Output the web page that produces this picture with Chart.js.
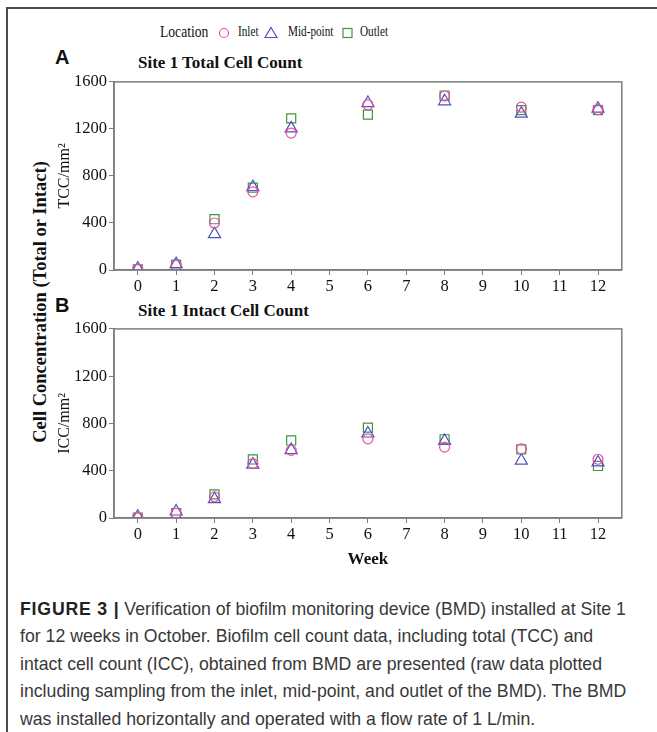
<!DOCTYPE html>
<html>
<head>
<meta charset="utf-8">
<script src="https://cdn.jsdelivr.net/npm/chart.js@4.4.1/dist/chart.umd.min.js"></script>
<style>
  body { margin: 0; background: #fff; width: 657px; height: 732px; position: relative; overflow: hidden; }
  .frame { position: absolute; left: 6px; top: 7px; width: 660px; height: 740px; border-left: 2px solid #4a4a4a; border-top: 2px solid #4a4a4a; }
  .serif { font-family: "Liberation Serif", "Times New Roman", serif; color: #111; }
  .abs { position: absolute; white-space: nowrap; }
  .narrow { transform: scaleX(0.8); transform-origin: left center; }
  .panel { position: absolute; font-family: "Liberation Sans", Arial, sans-serif; font-weight: bold; font-size: 20px; color: #111; }
  .ptitle { font-weight: bold; font-size: 17px; }
  .outer-title { position: absolute; left: 40px; top: 302px; transform: translate(-50%, -50%) rotate(-90deg); font-weight: bold; font-size: 18.5px; white-space: nowrap; }
  .caption { position: absolute; left: 20px; top: 596px; font-family: "Liberation Sans", Arial, sans-serif; font-size: 17.7px; line-height: 27.4px; color: #383838; white-space: nowrap; }
  .caption b { color: #222; letter-spacing: 0.8px; }
  canvas { position: absolute; }
</style>
</head>
<body>
<div class="frame"></div>

<div class="abs serif narrow" style="left:160px; top:22px; font-size:17px;">Location</div>
<svg class="abs" style="left:216px; top:26px;" width="180" height="16">
  <circle cx="8" cy="7" r="4.5" fill="none" stroke="#ec4f9b" stroke-width="1.2"/>
  <polygon points="55,1.5 61,11.5 49,11.5" fill="none" stroke="#5050c4" stroke-width="1.2"/>
  <rect x="127" y="2.5" width="9" height="9" fill="none" stroke="#3f963f" stroke-width="1.2"/>
</svg>
<div class="abs serif narrow" style="left:238px; top:24px; font-size:14px;">Inlet</div>
<div class="abs serif narrow" style="left:288px; top:24px; font-size:14px;">Mid-point</div>
<div class="abs serif narrow" style="left:360px; top:24px; font-size:14px;">Outlet</div>

<div class="panel" style="left:55px; top:46px;">A</div>
<div class="abs serif ptitle" style="left:138px; top:53px;">Site 1 Total Cell Count</div>
<div class="panel" style="left:55px; top:294px;">B</div>
<div class="abs serif ptitle" style="left:138px; top:301px;">Site 1 Intact Cell Count</div>

<div class="outer-title serif">Cell Concentration (Total or Intact)</div>

<canvas id="chartA" style="left:55px; top:70px;" width="575" height="230"></canvas>
<canvas id="chartB" style="left:55px; top:317px;" width="575" height="253"></canvas>

<div class="caption"><b>FIGURE 3 |</b> Verification of biofilm monitoring device (BMD) installed at Site 1<br>for 12 weeks in October. Biofilm cell count data, including total (TCC) and<br>intact cell count (ICC), obtained from BMD are presented (raw data plotted<br>including sampling from the inlet, mid-point, and outlet of the BMD). The BMD<br>was installed horizontally and operated with a flow rate of 1 L/min.</div>

<script>
// sampling weeks
const weeks = [0, 1, 2, 3, 4, 6, 8, 10, 12];

// total cell count (TCC/mm2)
const tccInlet  = [8, 40, 400, 665, 1165, 1405, 1480, 1385, 1365];
const tccMid    = [12, 50, 305, 705, 1205, 1420, 1435, 1330, 1372];
const tccOutlet = [6, 45, 432, 700, 1290, 1322, 1484, 1360, 1360];

// intact cell count (ICC/mm2)
const iccInlet  = [5, 40, 180, 460, 572, 670, 600, 585, 497];
const iccMid    = [10, 55, 160, 452, 575, 715, 652, 485, 470];
const iccOutlet = [4, 42, 200, 495, 656, 765, 666, 580, 440];

const yTicks = [0, 400, 800, 1200, 1600];

const colors = { inlet: '#ec4f9b', mid: '#5050c4', outlet: '#3f963f' };
const axisGrey = '#7d7d7d';
const serif = '"Liberation Serif", "Times New Roman", serif';

// draws the full box round the plot area
const boxPlugin = {
    id: 'box',
    afterDraw(chart) {
        const a = chart.chartArea;
        const ctx = chart.ctx;
        ctx.save();
        ctx.strokeStyle = axisGrey;
        ctx.lineWidth = 1.5;
        ctx.strokeRect(a.left, a.top, a.right - a.left, a.bottom - a.top);
        ctx.restore();
    }
};

function toPoints(values) {
    return weeks.map((w, i) => ({ x: w, y: values[i] }));
}

function makeChart(id, yTitle, inlet, mid, outlet, showWeek) {
    const ctx = document.getElementById(id);
    return new Chart(ctx, {
        type: 'scatter',
        data: {
            datasets: [
                { label: 'Inlet', data: toPoints(inlet), pointStyle: 'circle', pointRadius: 5,
                  borderColor: colors.inlet, backgroundColor: 'transparent', borderWidth: 1.2 },
                { label: 'Mid-point', data: toPoints(mid), pointStyle: 'triangle', pointRadius: 7,
                  borderColor: colors.mid, backgroundColor: 'transparent', borderWidth: 1.2 },
                { label: 'Outlet', data: toPoints(outlet), pointStyle: 'rect', pointRadius: 6.4,
                  borderColor: colors.outlet, backgroundColor: 'transparent', borderWidth: 1.2 }
            ]
        },
        options: {
            responsive: false,
            animation: false,
            layout: { padding: { top: 10, right: 8, left: 0, bottom: 0 } },
            plugins: { legend: { display: false }, tooltip: { enabled: false } },
            scales: {
                x: {
                    type: 'linear',
                    min: -0.62,
                    max: 12.62,
                    afterFit: s => { s.height = showWeek ? 52 : 30; },
                    grid: { drawOnChartArea: false, drawTicks: true, tickLength: 5, color: axisGrey },
                    border: { color: axisGrey, width: 1.5 },
                    ticks: { stepSize: 1, includeBounds: false, padding: 2, color: '#111',
                             font: { family: serif, size: 16.5 }, callback: v => String(v) },
                    title: { display: showWeek, text: 'Week', color: '#111', padding: 0,
                             font: { family: serif, size: 17, weight: 'bold' } }
                },
                y: {
                    min: 0,
                    max: 1600,
                    afterFit: s => { s.width = 59; },
                    afterBuildTicks: s => { s.ticks = yTicks.map(v => ({ value: v })); },
                    grid: { drawOnChartArea: false, drawTicks: true, tickLength: 5, color: axisGrey },
                    border: { color: axisGrey, width: 1.5 },
                    ticks: { padding: 2, color: '#111', font: { family: serif, size: 16.5 },
                             callback: v => String(v) },
                    title: { display: true, text: yTitle, color: '#111', padding: { top: 0, bottom: 0 },
                             font: { family: serif, size: 16 } }
                }
            }
        },
        plugins: [boxPlugin]
    });
}

makeChart('chartA', 'TCC/mm²', tccInlet, tccMid, tccOutlet, false);
makeChart('chartB', 'ICC/mm²', iccInlet, iccMid, iccOutlet, true);
</script>
</body>
</html>
